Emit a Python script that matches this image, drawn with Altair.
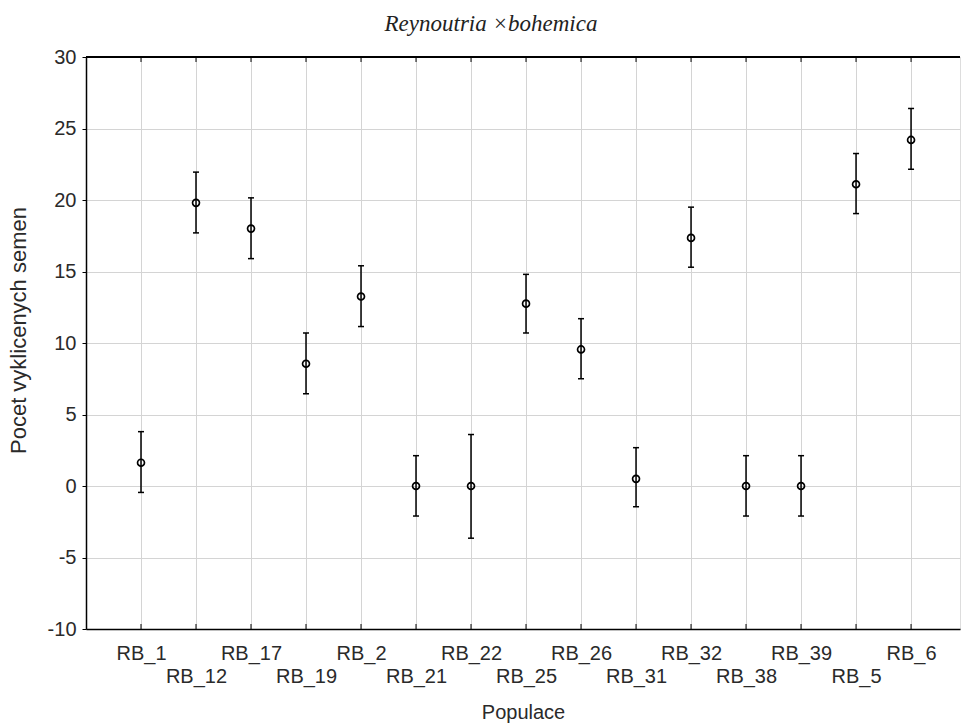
import altair as alt
import pandas as pd

populations = ["RB_1", "RB_12", "RB_17", "RB_19", "RB_2", "RB_21", "RB_22", "RB_25",
               "RB_26", "RB_31", "RB_32", "RB_38", "RB_39", "RB_5", "RB_6"]
means = [1.63, 19.8, 18.0, 8.55, 13.25, 0.0, 0.0, 12.75, 9.55, 0.5, 17.35, 0.0, 0.0, 21.1, 24.2]
lower = [-0.45, 17.7, 15.9, 6.45, 11.15, -2.1, -3.65, 10.7, 7.5, -1.45, 15.3, -2.1, -2.1, 19.05, 22.15]
upper = [3.8, 21.95, 20.15, 10.7, 15.4, 2.12, 3.6, 14.8, 11.7, 2.68, 19.5, 2.12, 2.12, 23.25, 26.4]
y_ticks = [-10, -5, 0, 5, 10, 15, 20, 25, 30]

df = pd.DataFrame({
    "pop": populations,
    "idx": list(range(1, len(populations) + 1)),
    "mean": means,
    "lo": lower,
    "hi": upper,
})

W, H = 874, 572
FONT = "Liberation Sans"
TXT = "#2a2a2a"

label_list = "[" + ",".join("'" + p + "'" for p in populations) + "]"
label_expr = (f"datum.value % 2 == 0 ? ['', {label_list}[datum.value - 1]] "
              f": {label_list}[datum.value - 1]")

xscale = alt.Scale(domain=[0, 15.89], nice=False, zero=False)
yscale = alt.Scale(domain=[-10, 30], nice=False)

x_enc = alt.X("idx:Q", scale=xscale, title="Populace",
              axis=alt.Axis(values=list(range(1, len(populations) + 1)),
                            labelExpr=label_expr, labelOverlap=False,
                            labelFont=FONT, labelFontSize=20, labelColor=TXT,
                            labelPadding=14, labelLineHeight=23, labelBaseline="top",
                            labelFlush=False,
                            ticks=False, domainColor="black", domainWidth=1.5,
                            grid=True, gridColor="#d4d4d4", gridWidth=1,
                            titleFont=FONT, titleFontSize=20, titleFontWeight="normal",
                            titleColor=TXT, titleBaseline="middle", titleY=83))
y_enc = alt.Y("mean:Q", scale=yscale, title="Pocet vyklicenych semen",
              axis=alt.Axis(values=y_ticks, labelExpr="datum.value + ''",
                            labelFont=FONT, labelFontSize=20,
                            labelColor=TXT, labelPadding=6, tickSize=4,
                            tickColor="black", domainColor="black", domainWidth=1.5,
                            grid=True, gridColor="#d4d4d4", gridWidth=1,
                            titleFont=FONT, titleFontSize=22, titleFontWeight="normal",
                            titleColor=TXT, titleBaseline="middle",
                            titleX=-68, titleY=273))

base = alt.Chart(df)

points = base.mark_point(shape="circle", filled=False, size=48, strokeWidth=1.7,
                         color="black", opacity=1).encode(x=x_enc, y=y_enc)

bars = base.mark_rule(color="black", strokeWidth=1.5).encode(
    x="idx:Q", y="lo:Q", y2="hi:Q")

cap_lo = base.mark_tick(orient="horizontal", size=6, thickness=1.5, color="black",
                        opacity=1).encode(x="idx:Q", y="lo:Q")
cap_hi = base.mark_tick(orient="horizontal", size=6, thickness=1.5, color="black",
                        opacity=1).encode(x="idx:Q", y="hi:Q")

# inward tick marks on bottom and top frame lines at each category
tick_bot = base.mark_rule(color="black", strokeWidth=1).encode(
    x="idx:Q", y=alt.value(H), y2=alt.value(H - 5))
tick_top = base.mark_rule(color="black", strokeWidth=1).encode(
    x="idx:Q", y=alt.value(0), y2=alt.value(5))
top_line = base.mark_rule(color="black", strokeWidth=1.5).encode(
    x=alt.value(0), x2=alt.value(W), y=alt.value(0))

chart = alt.layer(bars, cap_lo, cap_hi, points, tick_bot, tick_top, top_line).properties(
    width=W, height=H,
    title=alt.TitleParams("Reynoutria ×bohemica", font="Liberation Serif",
                          fontStyle="italic", fontSize=23, fontWeight="normal",
                          color="#222", anchor="middle", dx=-32, dy=34, offset=27,
                          frame="group", baseline="alphabetic"),
    autosize=alt.AutoSizeParams(type="none"),
    padding={"left": 86, "top": 57, "right": 1, "bottom": 95},
).configure_view(stroke=None).configure(background="white")

chart.save("out.html", embed_options={"renderer": "svg", "actions": False})
